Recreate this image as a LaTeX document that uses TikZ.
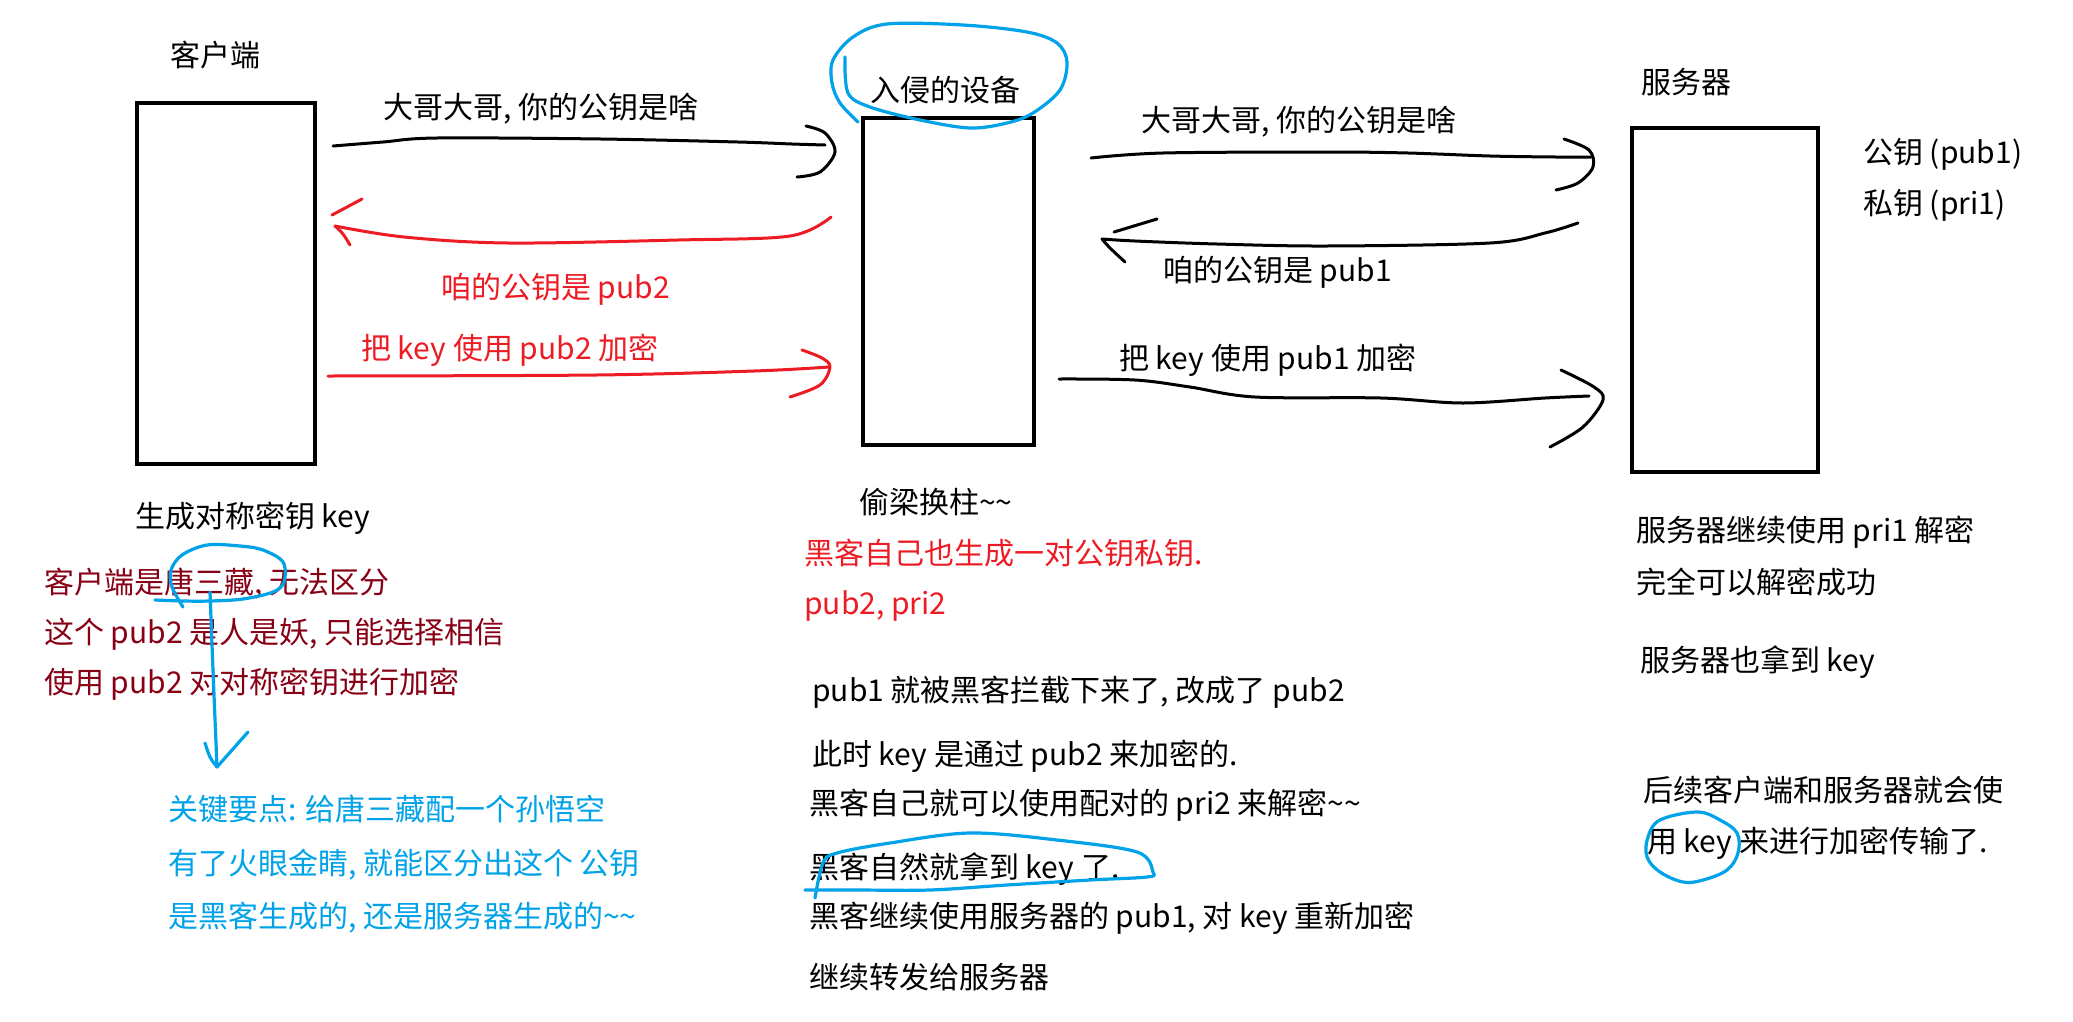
\documentclass[tikz,border=0pt]{standalone}
\usepackage{fontspec}
\setmainfont{Noto Sans CJK SC}
\definecolor{hred}{HTML}{ED1C24}
\definecolor{dred}{HTML}{880015}
\definecolor{hblue}{HTML}{00A2E8}
\newcommand{\tld}{\char"7E\relax}
\begin{document}
\begin{tikzpicture}[x=1pt,y=-1pt,
  lbl/.style={anchor=west,inner sep=0pt,text height=26.4pt,text depth=3.6pt,font=\fontsize{30}{36}\selectfont},
  redlbl/.style={lbl,text=hred},
  dredlbl/.style={lbl,text=dred},
  bluelbl/.style={lbl,text=hblue},
  devbox/.style={draw,line width=4.5pt,inner sep=0pt},
  pen/.style={line width=3pt,line cap=round,line join=round},
  blkpen/.style={pen,black},
  redpen/.style={pen,hred},
  bluepen/.style={pen,hblue,line width=3.2pt},
  sm/.style={smooth,tension=0.55}]
\fill[white] (0,0) rectangle (2073,1021);
\useasboundingbox (0,0) rectangle (2073,1021);

% boxes
\node[devbox,minimum width=178pt,minimum height=361pt] (client) at (226,283.5) {};
\node[devbox,minimum width=171pt,minimum height=327pt] (mid) at (948.5,281.5) {};
\node[devbox,minimum width=186pt,minimum height=344pt] (server) at (1725,300) {};

% titles
\node[lbl] (tclient) at (170,55) {客户端};
\node[lbl] (tmid) at (870,90) {入侵的设备};
\node[lbl] (tserver) at (1641,82) {服务器};
\node[lbl] (tpub) at (1863,152) {公钥 (pub1)};
\node[lbl] (tpri) at (1863,203) {私钥 (pri1)};

% arrow labels
\node[lbl] (la) at (383,107) {大哥大哥, 你的公钥是啥};
\node[redlbl] (lb) at (441,287) {咱的公钥是 pub2};
\node[redlbl] (lc) at (361,348) {把 key 使用 pub2 加密};
\node[lbl] (ld) at (1141,120) {大哥大哥, 你的公钥是啥};
\node[lbl] (le) at (1163,270) {咱的公钥是 pub1};
\node[lbl] (lf) at (1119,358) {把 key 使用 pub1 加密};

% left notes
\node[lbl] (gen) at (135,516) {生成对称密钥 key};
\node[dredlbl] (d1) at (44,582) {客户端是唐三藏, 无法区分};
\node[dredlbl] (d2) at (44,632) {这个 pub2 是人是妖, 只能选择相信};
\node[dredlbl] (d3) at (44,682) {使用 pub2 对对称密钥进行加密};
\node[bluelbl] (b1) at (168,809) {关键要点: 给唐三藏配一个孙悟空};
\node[bluelbl] (b2) at (168,863) {有了火眼金睛, 就能区分出这个 公钥};
\node[bluelbl] (b3) at (168,916) {是黑客生成的, 还是服务器生成的\tld\tld};

% middle notes
\node[lbl] (m0) at (859,502) {偷梁换柱\tld\tld};
\node[redlbl] (r1) at (804,553) {黑客自己也生成一对公钥私钥.};
\node[redlbl] (r2) at (804,603) {pub2, pri2};
\node[lbl] (m1) at (812,690) {pub1 就被黑客拦截下来了, 改成了 pub2};
\node[lbl] (m2) at (812,754) {此时 key 是通过 pub2 来加密的.};
\node[lbl] (m3) at (809,803) {黑客自己就可以使用配对的 pri2 来解密\tld\tld};
\node[lbl] (m4) at (809,867) {黑客自然就拿到 key 了.};
\node[lbl] (m5) at (809,916) {黑客继续使用服务器的 pub1, 对 key 重新加密};
\node[lbl] (m6) at (809,977) {继续转发给服务器};

% right notes
\node[lbl] (s1) at (1636,530) {服务器继续使用 pri1 解密};
\node[lbl] (s2) at (1636,582) {完全可以解密成功};
\node[lbl] (s3) at (1640,660) {服务器也拿到 key};
\node[lbl] (s4) at (1643,790) {后续客户端和服务器就会使};
\node[lbl] (s5) at (1647,841) {用 key 来进行加密传输了.};

% arrow end points
\coordinate (aS) at (333,146);  \coordinate (aE) at (825,145);
\coordinate (bS) at (831,217);  \coordinate (bE) at (335,226);
\coordinate (cS) at (328,376);  \coordinate (cE) at (829,367);
\coordinate (dS) at (1091,158); \coordinate (dE) at (1591,157);
\coordinate (eS) at (1578,223); \coordinate (eE) at (1102,239);
\coordinate (fS) at (1059,379); \coordinate (fE) at (1603,400);

% arrow A (client -> mid)
\draw[blkpen] plot[sm] coordinates {(aS) (383,142) (437,138) (601,139) (738,142) (792,144) (aE)};
\draw[blkpen] plot[sm] coordinates {(806,126) (825,133) (835,152) (820,172) (797,177)};
% arrow B (mid -> client, red)
\draw[redpen] plot[sm] coordinates {(bS) (790,236) (678,240) (508,243) (404,237) (bE)};
\draw[redpen] plot[sm] coordinates {(bE) (343,234) (350,245)};
\draw[redpen] (332,215) -- (362,199);
% arrow C (client -> mid, red)
\draw[redpen] plot[sm] coordinates {(cS) (596,375) (754,371) (cE)};
\draw[redpen] plot[sm] coordinates {(802,350) (822,358) (830,367) (820,385) (790,397)};
% arrow D (mid -> server)
\draw[blkpen] plot[sm] coordinates {(dS) (1163,153) (1326,152) (1408,153) (1490,156) (1556,157) (dE)};
\draw[blkpen] plot[sm] coordinates {(1564,139) (1589,150) (1593,167) (1578,183) (1556,190)};
% arrow E (server -> mid)
\draw[blkpen] plot[sm] coordinates {(eS) (1545,233) (1490,243) (1326,246) (1217,244) (1135,241) (eE)};
\draw[blkpen] plot[sm] coordinates {(eE) (1110,248) (1125,262)};
\draw[blkpen] (1114,232) -- (1157,219);
% arrow F (mid -> server)
\draw[blkpen] plot[sm] coordinates {(fS) (1135,380) (1190,387) (1255,397) (1381,398) (1463,403) (1545,398) (1589,396)};
\draw[blkpen] plot[sm] coordinates {(1561,370) (1594,387) (fE) (1583,427) (1550,447)};

% blue annotations
\draw[bluepen] plot[sm] coordinates {(845,57) (848,93) (870,107) (920,120) (970,128) (1007,123) (1033,113) (1060,90) (1067,62) (1057,43) (1027,32) (963,25) (887,24) (853,37) (833,60) (832,83) (840,103) (858,122)};
\draw[bluepen] plot[sm] coordinates {(183,607) (172,587) (171,570) (182,555) (207,545) (240,546) (263,550) (283,562) (284,582) (273,592) (243,599) (210,601) (183,601) (155,600)};
\coordinate (vS) at (210,592); \coordinate (vE) at (217,767);
\draw[bluepen] plot[sm] coordinates {(vS) (213,670) (vE)};
\draw[bluepen] plot[sm] coordinates {(205,743) (210,757) (vE)};
\draw[bluepen] (248,732) -- (vE);
\draw[bluepen] plot[sm] coordinates {(815,898) (823,863) (837,853) (890,843) (970,833) (1057,840) (1137,852) (1153,872) (1147,877) (1090,880) (1007,885) (930,890) (857,890) (805,890)};
\draw[bluepen] plot[smooth cycle,tension=0.6] coordinates {(1660,820) (1697,812) (1720,820) (1737,833) (1738,853) (1727,870) (1703,880) (1683,882) (1660,872) (1647,857) (1648,837)};
\end{tikzpicture}
\end{document}
